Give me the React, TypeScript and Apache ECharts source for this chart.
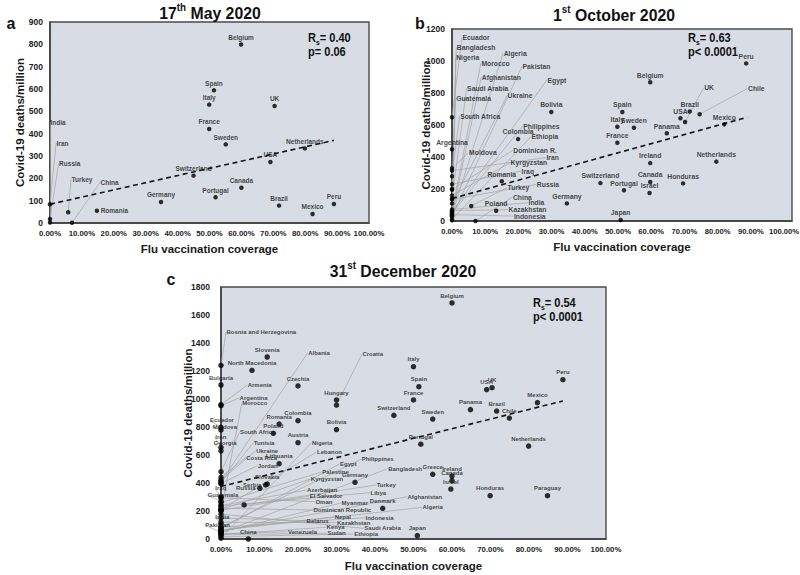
import React, { useEffect, useRef } from "react";
import * as echarts from "echarts";

type Pt = [string, number, number];

const FONT = "'Liberation Sans', Arial, Helvetica, sans-serif";

// ---------- Panel a: 17th May 2020 ----------
const mayPoints: Pt[] = [
  ["Belgium", 59.9, 799], ["Spain", 51.4, 594], ["Italy", 49.9, 530], ["UK", 70.4, 524],
  ["France", 49.9, 421], ["Sweden", 55.1, 352], ["Netherlands", 79.9, 334], ["USA", 69.1, 273],
  ["Switzerland", 45.0, 212], ["Canada", 60.0, 158], ["Portugal", 51.9, 115], ["Germany", 34.8, 94],
  ["Brazil", 71.8, 78], ["Peru", 89.0, 85], ["Mexico", 82.3, 40], ["Romania", 14.7, 55],
  ["Turkey", 5.7, 48], ["China", 6.9, 1], ["Iran", 0, 84], ["Russia", 0, 18], ["India", 0, 2],
];
const mayLeaders: Record<string, [number, number]> = {
  India: [0, 451], Iran: [1.9, 357], Russia: [2.7, 267], Turkey: [6.6, 196], China: [15.7, 182],
};
const mayPlacements: Record<string, string> = { Romania: "right" };
const mayTrend = [[0, 84], [89, 370]];
const mayStats = ["0.40", "p= 0.06"];

// ---------- Panel b: 1st October 2020 ----------
const octPoints: Pt[] = [
  ["Peru", 88.6, 985], ["Belgium", 59.7, 867], ["Bolivia", 29.9, 681], ["Spain", 51.3, 681],
  ["Italy", 49.8, 589], ["Sweden", 54.8, 583], ["France", 49.8, 489], ["USA", 68.8, 642],
  ["UK", 70.2, 619], ["Brazil", 71.6, 684], ["Chile", 74.6, 667], ["Mexico", 82.0, 604],
  ["Panama", 64.7, 548], ["Netherlands", 79.6, 371], ["Ireland", 59.7, 362], ["Canada", 59.7, 244],
  ["Honduras", 69.6, 235], ["Israel", 59.5, 175], ["Switzerland", 44.7, 237], ["Portugal", 51.8, 192],
  ["Germany", 34.6, 110], ["Japan", 50.8, 6], ["Colombia", 19.9, 512], ["Romania", 15.0, 248],
  ["Poland", 13.3, 64], ["Turkey", 5.8, 94], ["China", 7.1, 0],
  ["Ecuador", 0, 648], ["Argentina", 0, 448], ["Moldova", 0, 330], ["Iran", 0, 315],
  ["South Africa", 0, 280], ["Iraq", 0, 230], ["Guatemala", 0, 200], ["Dominican R.", 0, 195],
  ["Kyrgyzstan", 0, 160], ["Saudi Arabia", 0, 140], ["Russia", 0, 135], ["Ukraine", 0, 110],
  ["India", 0, 72], ["Kazakhstan", 0, 65], ["Egypt", 0, 57], ["Morocco", 0, 55],
  ["Philippines", 0, 49], ["Algeria", 0, 40], ["Indonesia", 0, 40], ["Afghanistan", 0, 37],
  ["Bangladesh", 0, 31], ["Pakistan", 0, 30], ["Ethiopia", 0, 9], ["Nigeria", 0, 5],
];
const octLeaders: Record<string, [number, number]> = {
  Ecuador: [3.0, 1144], Bangladesh: [1.3, 1083], Nigeria: [1.1, 1023], Algeria: [15.4, 1048],
  Morocco: [8.7, 986], Pakistan: [21.1, 967], Afghanistan: [8.8, 900], Egypt: [28.6, 881],
  "Saudi Arabia": [4.4, 829], Ukraine: [16.6, 783], Guatemala: [1.1, 763], "South Africa": [2.3, 656],
  Philippines: [21.3, 592], Ethiopia: [23.8, 527], Moldova: [5.0, 427], "Dominican R.": [18.3, 442],
  Iran: [28.3, 396], Kyrgyzstan: [17.5, 364], Iraq: [20.8, 312], Turkey: [16.6, 208],
  Russia: [25.4, 229], China: [18.2, 150], India: [22.9, 114], Kazakhstan: [16.9, 71],
  Indonesia: [18.5, 31], UK: [75.8, 833], Chile: [89.0, 829],
};
const octPlacements: Record<string, string> = {};
const octTrend = [[0, 141], [88.9, 648]];
const octStats = ["0.63", "p< 0.0001"];

// ---------- Panel c: 31st December 2020 ----------
const decPoints: Pt[] = [
  ["Belgium", 60.0, 1686], ["Italy", 50.0, 1231], ["Spain", 51.4, 1088], ["France", 50.0, 993],
  ["USA", 69.0, 1067], ["UK", 70.4, 1081], ["Peru", 88.8, 1138], ["Mexico", 82.2, 974],
  ["Panama", 64.8, 924], ["Brazil", 71.6, 914], ["Chile", 74.9, 864], ["Switzerland", 44.9, 883],
  ["Sweden", 55.0, 857], ["Portugal", 51.9, 677], ["Netherlands", 79.9, 664], ["Greece", 55.0, 462],
  ["Ireland", 60.0, 450], ["Canada", 60.0, 417], ["Israel", 59.7, 357], ["Honduras", 69.9, 309],
  ["Paraguay", 84.8, 309], ["Denmark", 42.0, 219], ["Japan", 51.0, 24], ["Germany", 34.8, 405],
  ["Hungary", 30.0, 993], ["Croatia", 30.0, 957], ["Bolivia", 30.0, 782], ["Czechia", 20.0, 1093],
  ["Colombia", 20.0, 845], ["Austria", 20.0, 688], ["Romania", 15.1, 821], ["Poland", 13.6, 755],
  ["Lithuania", 15.1, 538], ["Slovenia", 12.0, 1300], ["North Macedonia", 8.05, 1205],
  ["Slovakia", 12.0, 392], ["Serbia", 11.6, 386], ["Russia", 10.1, 362], ["Turkey", 6.0, 243],
  ["China", 7.1, 0],
  ["Bosnia and Herzegovina", 0, 1241], ["Bulgaria", 0, 1100], ["Armenia", 0, 960], ["Argentina", 0, 952],
  ["Ecuador", 0, 798], ["Moldova", 0, 779], ["Iran", 0, 655], ["Georgia", 0, 630],
  ["South Africa", 0, 481], ["Costa Rica", 0, 440], ["Ukraine", 0, 421], ["Albania", 0, 410],
  ["Tunisia", 0, 400], ["Jordan", 0, 395], ["Iraq", 0, 300], ["Oman", 0, 295],
  ["Guatemala", 0, 270], ["Palestine", 0, 260], ["Azerbaijan", 0, 240], ["Libya", 0, 235],
  ["Dominican Republic", 0, 220], ["Lebanon", 0, 210], ["Kyrgyzstan", 0, 210], ["El Salvador", 0, 205],
  ["Morocco", 0, 200], ["Saudi Arabia", 0, 178], ["Belarus", 0, 150], ["Kazakhstan", 0, 120],
  ["India", 0, 107], ["Philippines", 0, 85], ["Indonesia", 0, 84], ["Egypt", 0, 75],
  ["Nepal", 0, 65], ["Algeria", 0, 63], ["Afghanistan", 0, 55], ["Myanmar", 0, 50],
  ["Pakistan", 0, 47], ["Bangladesh", 0, 45], ["Venezuela", 0, 37], ["Kenya", 0, 32],
  ["Sudan", 0, 30], ["Ethiopia", 0, 16], ["Nigeria", 0, 6],
];
const decLeaders: Record<string, [number, number]> = {
  "Bosnia and Herzegovina": [1.3, 1479], Armenia: [6.8, 1098], Argentina: [4.7, 1007],
  Morocco: [5.4, 969], Albania: [22.5, 1329], Croatia: [36.6, 1319], "South Africa": [4.8, 762],
  Ecuador: [-3.0, 848], Moldova: [-2.3, 802], Iran: [-1.6, 726], Georgia: [-2.0, 688],
  Tunisia: [8.4, 688], Nigeria: [23.5, 688], Ukraine: [9.0, 629], "Costa Rica": [6.4, 581],
  Lebanon: [24.8, 621], Jordan: [9.4, 524], Egypt: [30.8, 536], Philippines: [36.4, 569],
  Palestine: [26.2, 479], Bangladesh: [43.3, 502], Iraq: [-1.6, 362], Kyrgyzstan: [23.2, 429],
  Guatemala: [-3.6, 314], Azerbaijan: [22.2, 350], "El Salvador": [22.9, 307], Oman: [24.4, 266],
  Turkey: [40.3, 386], Libya: [38.7, 331], Afghanistan: [48.3, 302], Myanmar: [31.2, 257],
  "Dominican Republic": [23.9, 207], Algeria: [52.2, 226], India: [-1.6, 157], Pakistan: [-4.2, 100],
  Nepal: [29.4, 159], Belarus: [22.1, 131], Indonesia: [37.4, 152], Kazakhstan: [30.0, 117],
  Kenya: [27.3, 84], "Saudi Arabia": [37.1, 76], Venezuela: [17.3, 52], Sudan: [27.5, 41],
  Ethiopia: [34.5, 36],
};
const decPlacements: Record<string, string> = { Russia: "left", Serbia: "left" };
const decTrend = [[0, 375], [88.8, 986]];
const decStats = ["0.54", "p< 0.0001"];

const yMaxes = [900, 1200, 1800];
const yIntervals = [100, 200, 200];
const xMaxes = [100, 102.4, 100];

function buildSeries(
  idx: number,
  pts: Pt[],
  leaders: Record<string, [number, number]>,
  placements: Record<string, string>,
  trend: number[][],
  fs: number,
  dot: number
) {
  const labelStyle = { fontSize: fs, fontWeight: "bold", color: "#161616", fontFamily: FONT };
  const pointData = pts.map(([n, x, y]) => {
    const item: any = { name: n, value: [x, y] };
    if (leaders[n]) item.label = { show: false };
    else if (placements[n]) item.label = { position: placements[n] };
    return item;
  });
  const withLeader = pts.filter((p) => leaders[p[0]]);
  const labelData = withLeader.map(([n]) => ({ name: n, value: leaders[n] }));
  const lineData = withLeader.map(([n, x, y]) => ({ coords: [[x, y], leaders[n]] }));
  return [
    {
      type: "lines", coordinateSystem: "cartesian2d", xAxisIndex: idx, yAxisIndex: idx,
      data: lineData, silent: true, clip: false, z: 1,
      lineStyle: { color: "#a3a3a3", width: 0.7, opacity: 1 },
    },
    {
      type: "line", xAxisIndex: idx, yAxisIndex: idx, data: trend, symbol: "none", silent: true, z: 2,
      lineStyle: { color: "#151515", width: 1.6, type: [5, 3.5] },
    },
    {
      type: "scatter", xAxisIndex: idx, yAxisIndex: idx, data: pointData, symbolSize: dot, z: 3,
      itemStyle: { color: "#000" }, clip: false,
      label: { show: true, formatter: "{b}", position: "top", distance: 1.5, ...labelStyle },
    },
    {
      type: "scatter", xAxisIndex: idx, yAxisIndex: idx, data: labelData, symbolSize: 0, z: 4,
      itemStyle: { color: "rgba(0,0,0,0)" }, clip: false, silent: true,
      label: { show: true, formatter: "{b}", position: "right", distance: 0.5, ...labelStyle },
    },
  ];
}

const grids = [
  { left: 50, top: 22, width: 319, height: 201 },
  { left: 452, top: 29, width: 340, height: 192 },
  { left: 221, top: 287, width: 385, height: 252 },
];
const yNameGaps = [24, 20.5, 27.5];
const xNameGaps = [20, 20, 21];

function titleText(x: number, y: number, pre: string, sup: string, post: string) {
  return {
    type: "text", x, y, scaleX: 0.93,
    style: {
      text: `{a|${pre}}{s|${sup}}{a|${post}}`, align: "center", verticalAlign: "middle",
      rich: {
        a: { fontSize: 17, fontWeight: "bold", fontFamily: FONT, fill: "#111", lineHeight: 22 },
        s: { fontSize: 10.5, fontWeight: "bold", fontFamily: FONT, fill: "#111", verticalAlign: "top", lineHeight: 10 },
      },
    },
  };
}
function statText(x: number, y: number, r: string, p: string) {
  return [
    {
      type: "text", x, y, scaleX: 0.85,
      style: {
        text: `{r|R}{s|s}{r|= ${r}}`, align: "left", verticalAlign: "middle",
        rich: {
          r: { fontSize: 13, fontWeight: "bold", fontFamily: FONT, fill: "#111", lineHeight: 16 },
          s: { fontSize: 8, fontWeight: "bold", fontFamily: FONT, fill: "#111", verticalAlign: "bottom", lineHeight: 12 },
        },
      },
    },
    {
      type: "text", x, y: y + 14, scaleX: 0.85,
      style: { text: p, align: "left", verticalAlign: "middle", fontSize: 13, fontWeight: "bold", fontFamily: FONT, fill: "#111" },
    },
  ];
}
function letter(x: number, y: number, t: string) {
  return {
    type: "text", x, y,
    style: { text: t, align: "center", verticalAlign: "middle", fontSize: 16, fontWeight: "bold", fontFamily: FONT, fill: "#111" },
  };
}

export default function App() {
  const ref = useRef<HTMLDivElement>(null);
  useEffect(() => {
    if (!ref.current) return;
    const chart = echarts.init(ref.current, undefined, { renderer: "svg" });
    const gridOpts = grids.map((g) => ({
      ...g, show: true, backgroundColor: "#d8dde5", borderColor: "#4a4a4a", borderWidth: 1.4,
      containLabel: false, outerBoundsMode: "none",
    }));
    const xAxes = grids.map((_, i) => ({
      type: "value", gridIndex: i, min: 0, max: xMaxes[i], interval: 10,
      axisLine: { show: true, onZero: false, lineStyle: { color: "#3c3c3c", width: 1.5 } },
      axisTick: { show: false }, splitLine: { show: false },
      axisLabel: {
        formatter: (v: number) => v.toFixed(2) + "%", fontSize: i === 1 ? 7.6 : 7.8,
        fontWeight: "bold", color: "#222", fontFamily: FONT, margin: 6,
        showMaxLabel: i !== 1,
      },
      name: "Flu vaccination coverage", nameLocation: "middle", nameGap: xNameGaps[i],
      nameMoveOverlap: false,
      nameTextStyle: { fontSize: 11.5, fontWeight: "bold", color: "#1a1a1a", fontFamily: FONT },
    }));
    const yAxes = grids.map((_, i) => ({
      type: "value", gridIndex: i, min: 0, max: yMaxes[i], interval: yIntervals[i],
      axisLine: { show: true, onZero: false, lineStyle: { color: "#3c3c3c", width: 1.5 } },
      axisTick: { show: false }, splitLine: { show: false },
      axisLabel: {
        formatter: (v: number) => String(v),
        fontSize: 8.5, fontWeight: "bold", color: "#222", fontFamily: FONT, margin: i === 2 ? 11 : 7,
      },
      name: "Covid-19 deaths/million", nameLocation: "middle", nameGap: yNameGaps[i],
      nameMoveOverlap: false,
      nameTextStyle: { fontSize: 11.5, fontWeight: "bold", color: "#1a1a1a", fontFamily: FONT },
    }));
    const series = [
      ...buildSeries(0, mayPoints, mayLeaders, mayPlacements, mayTrend, 6.5, 4.5),
      ...buildSeries(1, octPoints, octLeaders, octPlacements, octTrend, 6.8, 4.5),
      ...buildSeries(2, decPoints, decLeaders, decPlacements, decTrend, 6, 5.5),
    ];
    chart.setOption({
      animation: false,
      backgroundColor: "#ffffff",
      grid: gridOpts,
      xAxis: xAxes,
      yAxis: yAxes,
      series,
      graphic: [
        titleText(210, 13, "17", "th", " May 2020"),
        titleText(614, 15, "1", "st", " October 2020"),
        titleText(403, 271, "31", "st", " December 2020"),
        letter(11, 23, "a"),
        letter(420, 23, "b"),
        letter(171, 279, "c"),
        ...statText(308, 38, mayStats[0], mayStats[1]),
        ...statText(688, 38, octStats[0], octStats[1]),
        ...statText(533, 303, decStats[0], decStats[1]),
      ],
    } as any);
    return () => chart.dispose();
  }, []);
  return <div ref={ref} style={{ position: "fixed", left: 0, top: 0, width: 800, height: 575 }} />;
}
